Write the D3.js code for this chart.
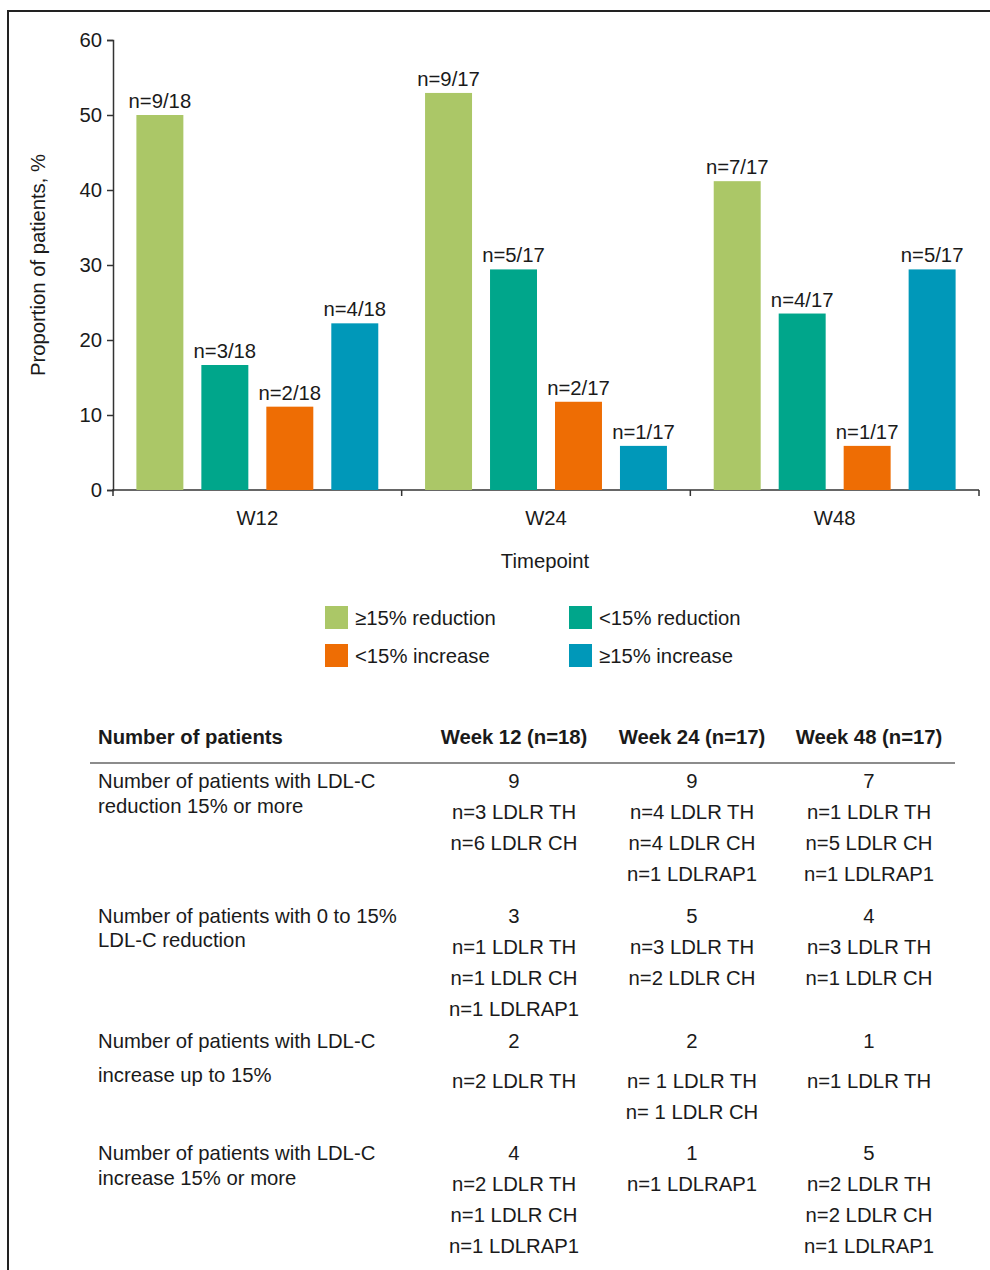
<!DOCTYPE html>
<html>
<head>
<meta charset="utf-8">
<script src="https://cdn.jsdelivr.net/npm/d3@7"></script>
<style>
    body { margin: 0; background: #fff; }
    svg { display: block; font-family: "Liberation Sans", Arial, sans-serif; }
    text { fill: #1a1a1a; }
</style>
</head>
<body>
<div id="chart"></div>
<script>
// ---- data ----
const timepoints = ["W12", "W24", "W48"];
const categories = ["≥15% reduction", "<15% reduction", "<15% increase", "≥15% increase"];
const counts = [            // patients per category, per timepoint
    [9, 3, 2, 4],
    [9, 5, 2, 1],
    [7, 4, 1, 5]
];
const totals = [18, 17, 17];
const yTicks = [0, 10, 20, 30, 40, 50, 60];
const colors = ["#abc767", "#00a68b", "#ee6d04", "#0098b9"];

const tableHeader = ["Number of patients", "Week 12 (n=18)", "Week 24 (n=17)", "Week 48 (n=17)"];
const rowLabels = [
    ["Number of patients with LDL-C", "reduction 15% or more"],
    ["Number of patients with 0 to 15%", "LDL-C reduction"],
    ["Number of patients with LDL-C", "increase up to 15%"],
    ["Number of patients with LDL-C", "increase 15% or more"]
];
const rowValues = [
    [["9", "n=3 LDLR TH", "n=6 LDLR CH"], ["9", "n=4 LDLR TH", "n=4 LDLR CH", "n=1 LDLRAP1"], ["7", "n=1 LDLR TH", "n=5 LDLR CH", "n=1 LDLRAP1"]],
    [["3", "n=1 LDLR TH", "n=1 LDLR CH", "n=1 LDLRAP1"], ["5", "n=3 LDLR TH", "n=2 LDLR CH"], ["4", "n=3 LDLR TH", "n=1 LDLR CH"]],
    [["2", "n=2 LDLR TH"], ["2", "n= 1 LDLR TH", "n= 1 LDLR CH"], ["1", "n=1 LDLR TH"]],
    [["4", "n=2 LDLR TH", "n=1 LDLR CH", "n=1 LDLRAP1"], ["1", "n=1 LDLRAP1"], ["5", "n=2 LDLR TH", "n=2 LDLR CH", "n=1 LDLRAP1"]]
];

// ---- layout ----
const W = 990, H = 1270;
const fontSize = "20.3px";
const plot = { left: 113, right: 979, top: 40, bottom: 490 };

const svg = d3.select("#chart").append("svg")
    .attr("width", W)
    .attr("height", H);

// frame
svg.append("rect")
    .attr("x", 8).attr("y", 11)
    .attr("width", 1000).attr("height", 1300)
    .attr("fill", "none")
    .attr("stroke", "#222")
    .attr("stroke-width", 2);

const x0 = d3.scaleBand()
    .domain(timepoints)
    .range([plot.left, plot.right]);

const x1 = d3.scaleBand()
    .domain(d3.range(categories.length))
    .range([0, x0.bandwidth()])
    .paddingInner(0.277)
    .paddingOuter(0.36);

const y = d3.scaleLinear()
    .domain([0, 60])
    .range([plot.bottom, plot.top]);

// y axis
const yAxis = svg.append("g")
    .attr("transform", `translate(${plot.left},0)`)
    .call(d3.axisLeft(y).tickValues(yTicks).tickSize(6).tickPadding(5));
yAxis.select(".domain").attr("stroke", "#333").attr("stroke-width", 1.5);
yAxis.selectAll(".tick line").attr("stroke", "#333").attr("stroke-width", 1.5);
yAxis.selectAll(".tick text")
    .style("font-size", fontSize)
    .style("font-family", "Liberation Sans, Arial, sans-serif")
    .attr("fill", "#1a1a1a");

// x axis: baseline with ticks on the group boundaries
const xAxis = svg.append("g");
xAxis.append("line")
    .attr("x1", plot.left - 1).attr("x2", plot.right)
    .attr("y1", plot.bottom).attr("y2", plot.bottom)
    .attr("stroke", "#333").attr("stroke-width", 1.5);
const bounds = timepoints.map(t => x0(t)).concat([x0(timepoints[timepoints.length - 1]) + x0.bandwidth()]);
xAxis.selectAll(".xtick")
    .data(bounds)
    .enter()
    .append("line")
    .attr("x1", d => d).attr("x2", d => d)
    .attr("y1", plot.bottom).attr("y2", plot.bottom + 6)
    .attr("stroke", "#333").attr("stroke-width", 1.5);
xAxis.selectAll(".xlabel")
    .data(timepoints)
    .enter()
    .append("text")
    .attr("x", d => x0(d) + x0.bandwidth() / 2)
    .attr("y", plot.bottom + 35)
    .attr("text-anchor", "middle")
    .style("font-size", fontSize)
    .text(d => d);

svg.append("text")
    .attr("x", (plot.left + plot.right) / 2 - 1)
    .attr("y", 568)
    .attr("text-anchor", "middle")
    .style("font-size", fontSize)
    .text("Timepoint");

svg.append("text")
    .attr("transform", `translate(45,${(plot.top + plot.bottom) / 2}) rotate(-90)`)
    .attr("text-anchor", "middle")
    .style("font-size", fontSize)
    .text("Proportion of patients, %");

// bars
const groups = svg.selectAll(".group")
    .data(timepoints)
    .enter()
    .append("g")
    .attr("class", "group")
    .attr("transform", d => `translate(${x0(d)},0)`);

groups.each(function (t, ti) {
    const g = d3.select(this);
    const items = counts[ti].map((c, ci) => ({ ci, c, pct: c / totals[ti] * 100, n: totals[ti] }));

    g.selectAll("rect")
        .data(items)
        .enter()
        .append("rect")
        .attr("x", d => x1(d.ci))
        .attr("y", d => y(d.pct))
        .attr("width", x1.bandwidth())
        .attr("height", d => y(0) - y(d.pct))
        .attr("fill", d => colors[d.ci]);

    g.selectAll("text")
        .data(items)
        .enter()
        .append("text")
        .attr("x", d => x1(d.ci) + x1.bandwidth() / 2)
        .attr("y", d => y(d.pct) - 7)
        .attr("text-anchor", "middle")
        .style("font-size", fontSize)
        .text(d => `n=${d.c}/${d.n}`);
});

// legend
const legendCols = [325, 569];
const legendRows = [606, 644];
const legend = svg.selectAll(".legendItem")
    .data(categories)
    .enter()
    .append("g")
    .attr("class", "legendItem")
    .attr("transform", (d, i) => `translate(${legendCols[i % 2]},${legendRows[Math.floor(i / 2)]})`);
legend.append("rect")
    .attr("width", 23).attr("height", 23)
    .attr("fill", (d, i) => colors[i]);
legend.append("text")
    .attr("x", 30)
    .attr("y", 19)
    .style("font-size", fontSize)
    .text(d => d);

// table
const tableLeft = 98;
const colCenters = [514, 692, 869];
const headerY = 744;

svg.append("text")
    .attr("x", tableLeft).attr("y", headerY)
    .style("font-size", fontSize)
    .style("font-weight", "bold")
    .text(tableHeader[0]);
svg.selectAll(".colHead")
    .data(tableHeader.slice(1))
    .enter()
    .append("text")
    .attr("x", (d, i) => colCenters[i])
    .attr("y", headerY)
    .attr("text-anchor", "middle")
    .style("font-size", fontSize)
    .style("font-weight", "bold")
    .text(d => d);

svg.append("line")
    .attr("x1", 90).attr("x2", 955)
    .attr("y1", 763).attr("y2", 763)
    .attr("stroke", "#666").attr("stroke-width", 1.5);

const rowTops = [788, 923, 1048, 1160];
const valueLineH = 31;
const labelLineH = [25, 24, 34, 25];
const valueGap = [0, 0, 9, 0];   // extra space under the count line

rowLabels.forEach((lines, ri) => {
    svg.append("g").selectAll("text")
        .data(lines)
        .enter()
        .append("text")
        .attr("x", tableLeft)
        .attr("y", (d, i) => rowTops[ri] + i * labelLineH[ri])
        .style("font-size", fontSize)
        .text(d => d);

    rowValues[ri].forEach((cell, ci) => {
        svg.append("g").selectAll("text")
            .data(cell)
            .enter()
            .append("text")
            .attr("x", colCenters[ci])
            .attr("y", (d, i) => rowTops[ri] + i * valueLineH + (i > 0 ? valueGap[ri] : 0))
            .attr("text-anchor", "middle")
            .style("font-size", fontSize)
            .text(d => d);
    });
});
</script>
</body>
</html>
